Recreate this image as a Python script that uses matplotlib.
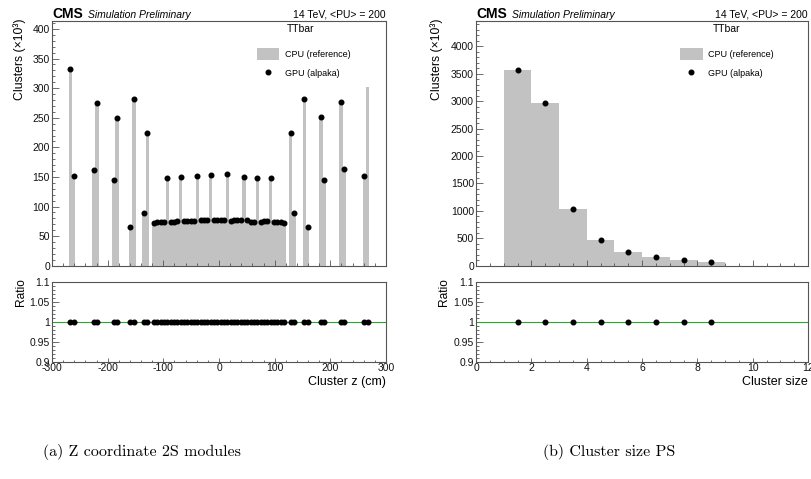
import numpy as np
import matplotlib
matplotlib.use("Agg")
import matplotlib.pyplot as plt
from matplotlib.ticker import MultipleLocator, FixedLocator
from matplotlib.lines import Line2D

plt.rcParams['font.family'] = ['Liberation Sans', 'DejaVu Sans']
plt.rcParams['axes.unicode_minus'] = False

# ---------------- data: (a) cluster z, 2S modules (6 cm bins) ----------------
z_bin_width = 6
z_outer_left = [-267, -261, -225, -219, -189, -183, -159, -153, -135, -129]
cpu_outer_left = [332, 151, 162, 275, 145.5, 250, 66, 281, 89.5, 224]
z_central = list(np.arange(-117, 118, 6))
cpu_central = [72.5, 73, 74, 74.5, 147.5, 74, 74, 75, 149.5, 75.5,
               75.5, 75.5, 75.5, 152, 76.5, 77, 77, 153, 76.5, 77.5,
               77, 77, 154.5, 76, 76.5, 77, 77.5, 150, 76.5, 74.5,
               73, 149, 74, 75, 75, 148.5, 73.5, 74, 74, 72.5]
z_outer_right = [129, 135, 153, 159, 183, 189, 219, 225, 261, 267]
cpu_outer_right = [224.5, 89.5, 281.5, 65.5, 250.5, 145, 276.5, 163, 151, 301.5]

z_centers = z_outer_left + z_central + z_outer_right
cpu_z = cpu_outer_left + cpu_central + cpu_outer_right
gpu_z = list(cpu_z)
gpu_z[-1] = np.nan          # marker not drawn in the reference for this bin
ratio_z = [1.0] * len(z_centers)

# ---------------- data: (b) cluster size, PS modules ----------------
size_centers = [1.5, 2.5, 3.5, 4.5, 5.5, 6.5, 7.5, 8.5]
cpu_size = [3577, 2968, 1040, 474, 255, 153, 97, 67]
gpu_size = [3577, 2968, 1040, 474, 255, 153, 97, 67]
ratio_size = [1.0] * len(size_centers)

W, H = 811, 479
fig = plt.figure(figsize=(W / 100, H / 100), dpi=100)

def fr(x, ytop, w, h):
    return [x / W, 1 - (ytop + h) / H, w / W, h / H]

GRAY = '#c2c2c2'
FRAME = '#555555'
FS_TICK = 7.5

def style(ax, xmaj, xmin, ymaj, ymin, main=True):
    for s in ax.spines.values():
        s.set_color(FRAME)
        s.set_linewidth(0.8)
    ax.xaxis.set_major_locator(MultipleLocator(xmaj))
    ax.xaxis.set_minor_locator(MultipleLocator(xmin))
    ax.yaxis.set_major_locator(MultipleLocator(ymaj))
    ax.yaxis.set_minor_locator(MultipleLocator(ymin))
    ax.tick_params(which='both', direction='in', top=False, right=False,
                   color=FRAME, width=0.6, labelsize=FS_TICK, labelcolor='#111111')
    if main:
        ax.tick_params(axis='x', which='major', length=4.3)
        ax.tick_params(axis='x', which='minor', length=2.2)
        ax.tick_params(axis='x', labelbottom=False)
    else:
        ax.tick_params(axis='x', which='major', length=3.0, pad=0.5)
        ax.tick_params(axis='x', which='minor', length=1.6)
    ax.tick_params(axis='y', which='major', length=5.0, pad=1.5)
    ax.tick_params(axis='y', which='minor', length=2.5)

panels = [
    dict(x=52, w=334, centers=z_centers, cpu=cpu_z, gpu=gpu_z, ratio=ratio_z,
         width=z_bin_width, xlim=(-300, 300), ylim=(0, 414), xmaj=100, xmin=20,
         ymaj=50, ymin=10, xlabel='Cluster z (cm)', ylab_x=20, rlab_x=21,
         leg_x=256.7, ttbar_x=286.7),
    dict(x=476, w=332, centers=size_centers, cpu=cpu_size, gpu=gpu_size,
         ratio=ratio_size, width=1, xlim=(0, 12), ylim=(0, 4468), xmaj=2,
         xmin=0.5, ymaj=500, ymin=100, xlabel='Cluster size', ylab_x=437,
         rlab_x=444, leg_x=680, ttbar_x=713),
]

for p in panels:
    ax = fig.add_axes(fr(p['x'], 20.7, p['w'], 245))
    bars = ax.bar(p['centers'], p['cpu'], width=p['width'], color=GRAY,
                  linewidth=0, label='CPU (reference)')
    pts, = ax.plot(p['centers'], p['gpu'], 'o', color='black', ms=3.3,
                   linestyle='none', label='GPU (alpaka)')
    ax.set_xlim(*p['xlim'])
    ax.set_ylim(*p['ylim'])
    style(ax, p['xmaj'], p['xmin'], p['ymaj'], p['ymin'], main=True)

    leg_handles = [bars.patches[0], Line2D([], [], marker='o', color='black',
                                           ms=3.3, linestyle='none')]
    ax.legend(leg_handles, ['CPU (reference)', 'GPU (alpaka)'],
              loc='upper left',
              bbox_to_anchor=(p['leg_x'] / W, 1 - 48.3 / H),
              bbox_transform=fig.transFigure, frameon=False, fontsize=6.5,
              borderpad=0, borderaxespad=0, handlelength=2.5,
              handleheight=1.55, labelspacing=0.9, handletextpad=0.65)

    rax = fig.add_axes(fr(p['x'], 282.3, p['w'], 80))
    rax.axhline(1.0, color='#4a8f4a', lw=0.8)
    rax.plot(p['centers'], p['ratio'], 'o', color='black', ms=3.3,
             linestyle='none')
    rax.set_xlim(*p['xlim'])
    rax.set_ylim(0.9, 1.1)
    style(rax, p['xmaj'], p['xmin'], 0.05, 0.01, main=False)
    rax.yaxis.set_major_locator(FixedLocator([0.9, 0.95, 1.0, 1.05, 1.1]))
    rax.set_yticklabels(['0.9', '0.95', '1', '1.05', '1.1'])

    # texts
    fig.text(p['x'] / W, 1 - 17.5 / H, 'CMS', fontsize=10, fontweight='bold',
             ha='left', va='baseline')
    fig.text((p['x'] + 36) / W, 1 - 17.5 / H, 'Simulation Preliminary',
             fontsize=7.5, style='italic', ha='left', va='baseline')
    fig.text((p['x'] + p['w']) / W, 1 - 17.5 / H, '14 TeV, <PU> = 200',
             fontsize=7.5, ha='right', va='baseline')
    fig.text(p['ttbar_x'] / W, 1 - 29 / H, 'TTbar', fontsize=7.5,
             ha='left', va='center')
    fig.text(p['ylab_x'] / W, 1 - 18 / H, 'Clusters (\u00d710\u00b3)',
             fontsize=8.8, rotation=90, ha='center', va='top')
    fig.text(p['rlab_x'] / W, 1 - 278.5 / H, 'Ratio', fontsize=8.6,
             rotation=90, ha='center', va='top')
    fig.text((p['x'] + p['w']) / W, 1 - 382 / H, p['xlabel'], fontsize=9,
             ha='right', va='center')

fig.text(142 / W, 1 - 452 / H, '(a) Z coordinate 2S modules', fontsize=11.5,
         family=['cmr10', 'DejaVu Serif'], ha='center', va='center')
fig.text(609 / W, 1 - 452 / H, '(b) Cluster size PS', fontsize=11.5,
         family=['cmr10', 'DejaVu Serif'], ha='center', va='center')

fig.savefig('out.png', dpi=100)
